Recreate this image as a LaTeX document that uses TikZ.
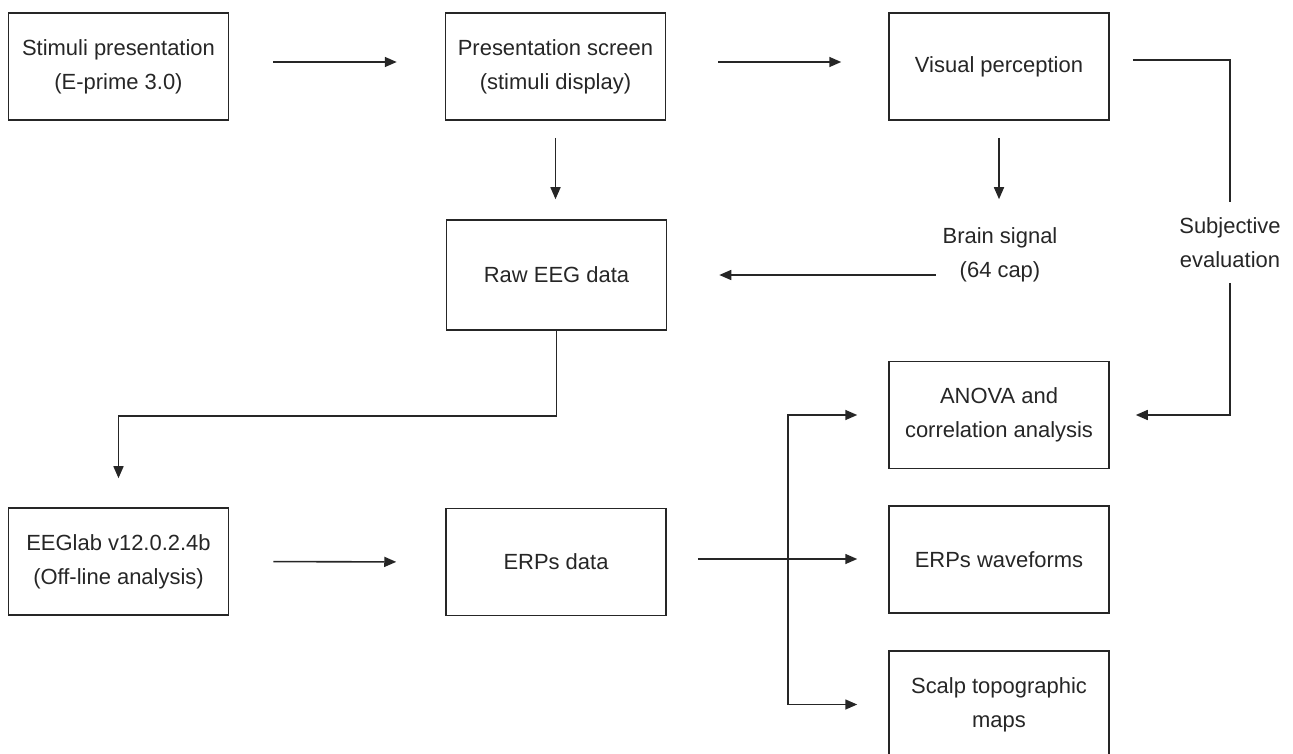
\documentclass[tikz,border=0pt]{standalone}
\usepackage{fontspec}
\setmainfont{Liberation Sans}
\usetikzlibrary{arrows.meta}
\begin{document}
\begin{tikzpicture}[x=0.02cm,y=-0.02cm,line width=0.9pt,color=black!85,
    every node/.style={font=\fontsize{12.5}{19.3}\selectfont,align=center},
    box/.style={draw,minimum width=4.4cm,minimum height=2.14cm,inner sep=0pt},
    arr/.style={-{Triangle[length=0.24cm,width=0.2cm]}}]
  \useasboundingbox(0,0)rectangle(1293,753);
  \node[box](stim)at(118.5,66.5){Stimuli presentation\\(E-prime 3.0)};
  \node[box](pres)at(555.5,66.5){Presentation screen\\(stimuli display)};
  \node[box](vis)at(999,66.5){Visual perception};
  \node[box,minimum height=2.2cm](raw)at(556.5,275){Raw EEG data};
  \node[minimum height=2.2cm](brain)at(1000,255){Brain signal\\(64 cap)};
  \node[minimum height=1.58cm](subj)at(1230,242.5){Subjective\\evaluation};
  \node[box](eeglab)at(118.5,561.5){EEGlab v12.0.2.4b\\(Off-line analysis)};
  \node[box](erp)at(556,562){ERPs data};
  \node[box](anova)at(999,415){ANOVA and\\correlation analysis};
  \node[box](wave)at(999,559.5){ERPs waveforms};
  \node[box](scalp)at(999,704.5){Scalp topographic\\maps};
  \coordinate(fork)at(788,559);
  \draw[arr,shorten <=0.88cm,shorten >=0.96cm]([yshift=0.09cm]stim.east)--([yshift=0.09cm]pres.west);
  \draw[arr,shorten <=1.04cm,shorten >=0.94cm]([yshift=0.09cm]pres.east)--([yshift=0.09cm]vis.west);
  \draw[arr,shorten <=0.34cm,shorten >=0.4cm](pres.south)--(pres.south|-raw.north);
  \draw[arr,shorten <=0.34cm](vis.south)--(vis.south|-brain.north);
  \draw[arr,shorten >=1.04cm](brain.west|-raw)--(raw.east);
  \draw[shorten <=0.46cm]([yshift=0.13cm]vis.east)-|(subj.north);
  \draw[arr,shorten >=0.52cm](subj.south)|-(anova.east);
  \draw[arr,shorten >=0.58cm](raw.south)--++(0,85)-|(eeglab.north);
  \draw[arr,shorten <=0.88cm,shorten >=0.98cm](eeglab.east)--(erp.west);
  \draw[shorten <=0.62cm](fork-|erp.east)--(fork);
  \draw[arr,shorten >=0.62cm](fork)--(fork-|wave.west);
  \draw[arr,shorten >=0.62cm](fork)|-(anova.west);
  \draw[arr,shorten >=0.62cm](fork)|-(scalp.west);
\end{tikzpicture}
\end{document}
